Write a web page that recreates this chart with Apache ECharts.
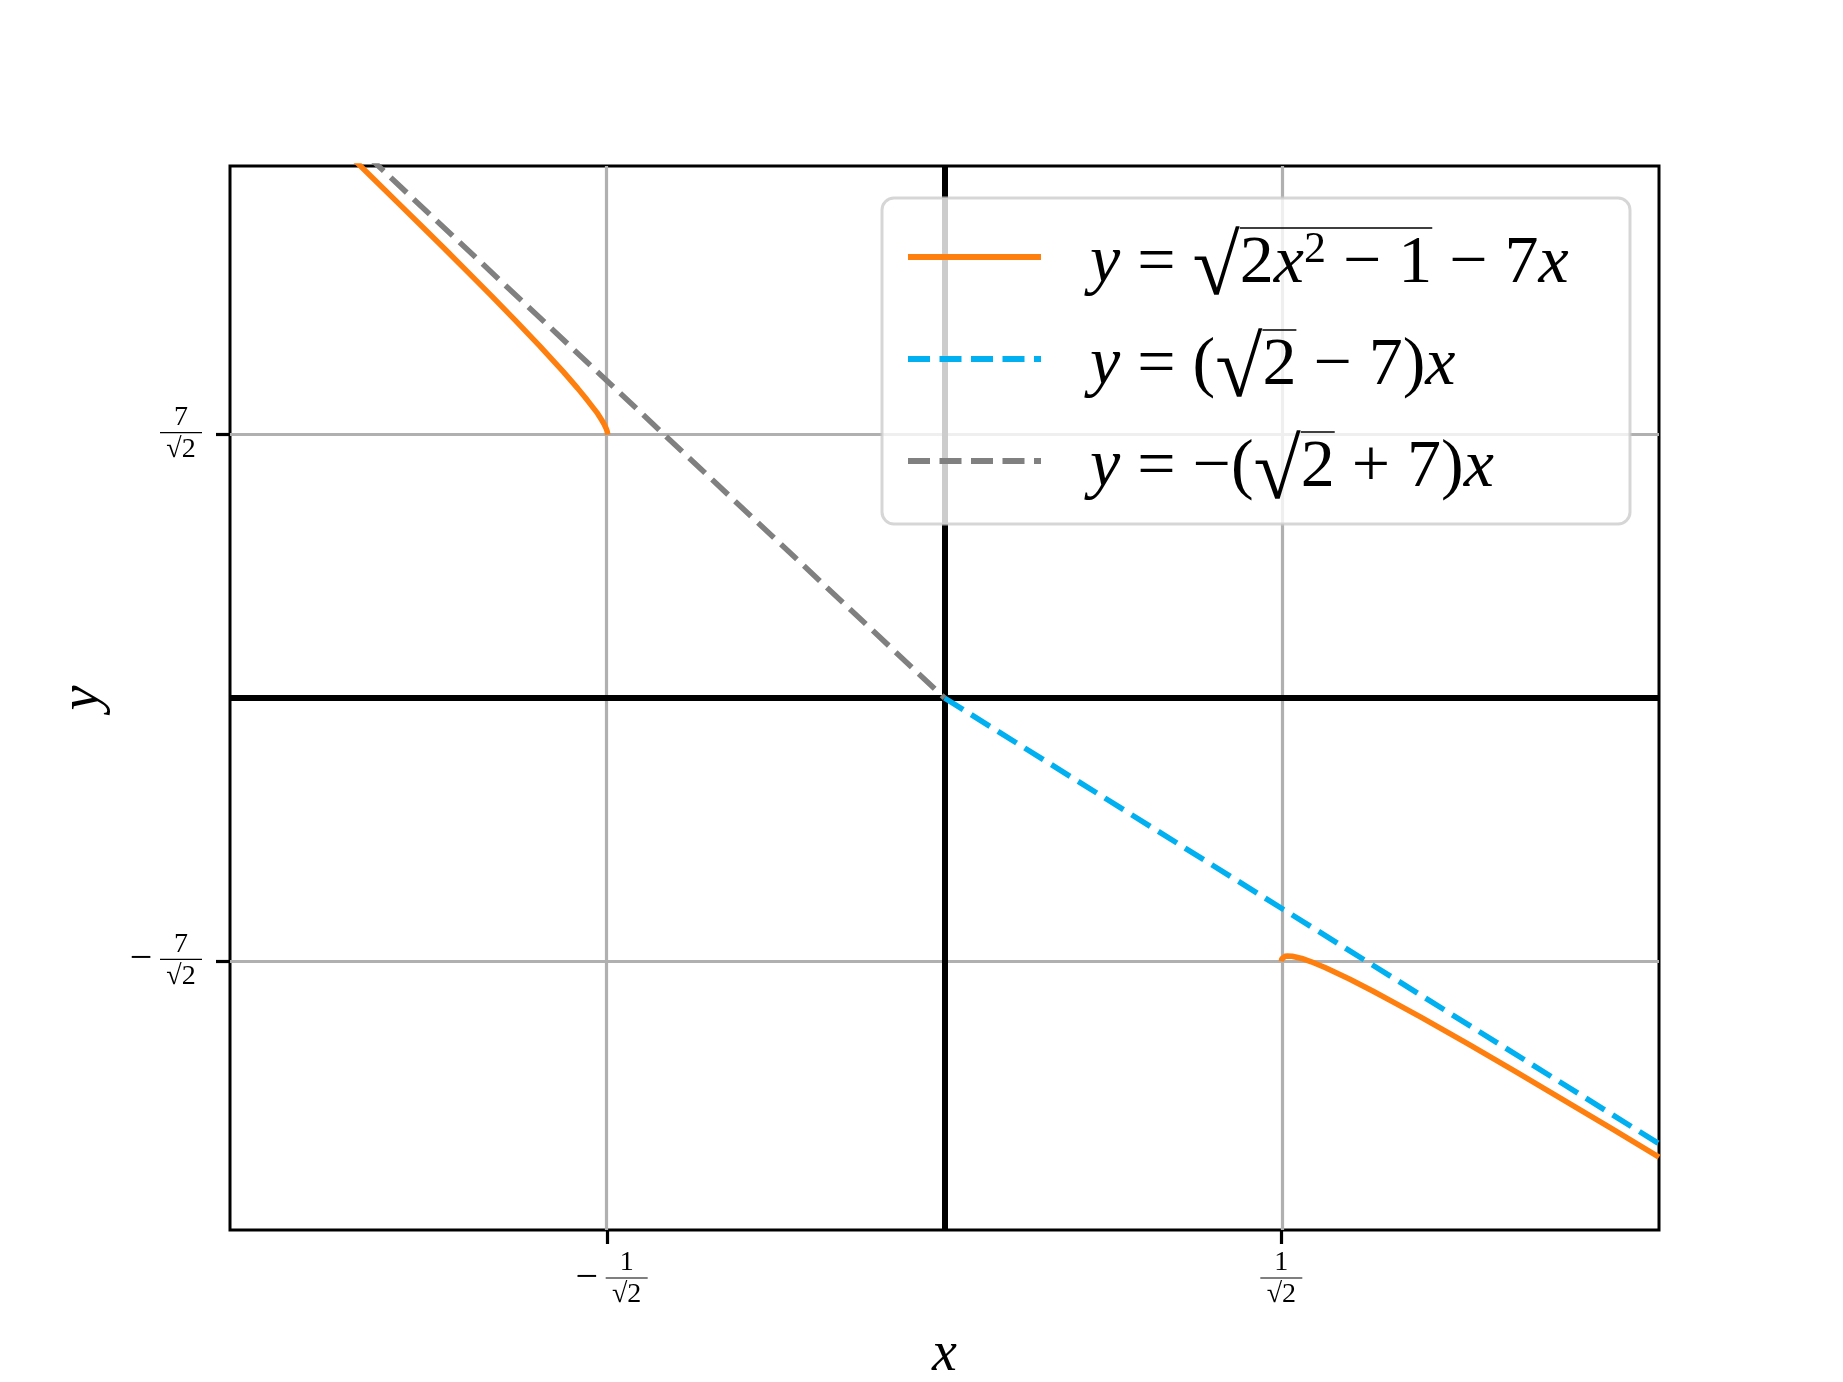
<!DOCTYPE html>
<html>
<head>
<meta charset="utf-8">
<script src="https://cdn.jsdelivr.net/npm/echarts@6/dist/echarts.min.js"></script>
<style>
  html, body { margin: 0; padding: 0; background: #fff; }
  #chart { width: 1843px; height: 1382px; }
</style>
</head>
<body>
<div id="chart"></div>
<script>
// y = sqrt(2x^2 - 1) - 7x, left branch (x <= -1/sqrt2)
const leftX = [-1.30, -1.25, -1.20, -1.15, -1.10, -1.05, -1.00, -0.95, -0.90, -0.85, -0.80, -0.77, -0.75, -0.73, -0.72, -0.715, -0.71, -0.708, -0.7071];
const leftY = [10.64, 10.21, 9.77, 9.33, 8.89, 8.45, 8.00, 7.55, 7.09, 6.62, 6.13, 5.82, 5.60, 5.37, 5.23, 5.155, 5.06, 5.006, 4.95];
// same curve, right branch (x >= 1/sqrt2)
const rightX = [0.7071, 0.708, 0.71, 0.715, 0.72, 0.73, 0.75, 0.77, 0.80, 0.85, 0.90, 0.95, 1.00, 1.05, 1.10, 1.20, 1.30, 1.40, 1.50];
const rightY = [-4.95, -4.906, -4.879, -4.855, -4.848, -4.854, -4.896, -4.959, -5.071, -5.283, -5.513, -5.753, -6.00, -6.252, -6.508, -7.029, -7.557, -8.091, -8.629];
// y = (sqrt2 - 7)x
const blueX = [0, 1.5];
const blueY = [0, -8.379];
// y = -(sqrt2 + 7)x
const grayX = [-1.5, 0];
const grayY = [12.621, 0];

const xRange = [-1.5, 1.5];
const yRange = [-10, 10];
const xTicks = [-0.70710678, 0.70710678];
const xTickText = ['−1/√2', '1/√2'];
const yTicks = [-4.94974747, 4.94974747];
const yTickText = ['−7/√2', '7/√2'];

const legendNames = ['curve', 'blue', 'gray'];

const SERIF = '"Liberation Serif", "DejaVu Serif", serif';
const LF = 68;
const SP = ' ';

function pairs(xs, ys) {
  return xs.map((x, i) => [x, ys[i]]);
}

// tick label as a stacked fraction
function fracLabel(value, ticks, texts) {
  let k = 0;
  for (let i = 0; i < ticks.length; i++) {
    if (Math.abs(ticks[i] - value) < 1e-6) k = i;
  }
  const t = texts[k];
  const neg = t.charAt(0) === '−';
  const p = (neg ? t.slice(1) : t).split('/');
  if (neg) {
    return '{ms|}{num|' + p[0] + '}\n{mi|−}{bar|}\n{ms|}{den|' + p[1] + '}';
  }
  return '{num|' + p[0] + '}\n{bar|}\n{den|' + p[1] + '}';
}

const fracRich = {
  num: { fontFamily: SERIF, fontSize: 28, color: '#000', width: 42, align: 'center', lineHeight: 22 },
  den: { fontFamily: SERIF, fontSize: 28, color: '#000', width: 42, align: 'center', lineHeight: 26 },
  bar: { width: 42, height: 0, borderWidth: 1.2, borderColor: '#000', lineHeight: 8, verticalAlign: 'middle' },
  mi: { fontFamily: SERIF, fontSize: 40, color: '#000', width: 38, align: 'center', lineHeight: 8 },
  ms: { width: 38, lineHeight: 8 }
};

// legend math text
const legendRich = {
  v: { fontFamily: SERIF, fontStyle: 'italic', fontSize: LF, color: '#000', lineHeight: 70, verticalAlign: 'bottom' },
  n: { fontFamily: SERIF, fontSize: LF, color: '#000', lineHeight: 70, verticalAlign: 'bottom' },
  sq: { fontFamily: SERIF, fontSize: 86, color: '#000', lineHeight: 60, verticalAlign: 'top' },
  sup: { fontFamily: SERIF, fontSize: 44, color: '#000', lineHeight: 45, verticalAlign: 'top' }
};

const legendParts = {
  curve: {
    pre: [['v', 'y'], ['n', SP + '=' + SP], ['sq', '√']],
    rad: [['n', '2'], ['v', 'x'], ['sup', '2'], ['n', SP + '−' + SP + '1']],
    post: [['n', SP + '−' + SP + '7'], ['v', 'x']]
  },
  blue: {
    pre: [['v', 'y'], ['n', SP + '=' + SP + '('], ['sq', '√']],
    rad: [['n', '2']],
    post: [['n', SP + '−' + SP + '7)'], ['v', 'x']]
  },
  gray: {
    pre: [['v', 'y'], ['n', SP + '=' + SP + '−('], ['sq', '√']],
    rad: [['n', '2']],
    post: [['n', SP + '+' + SP + '7)'], ['v', 'x']]
  }
};

const measureCtx = document.createElement('canvas').getContext('2d');
function segWidth(segs) {
  let w = 0;
  segs.forEach(s => {
    const st = legendRich[s[0]];
    measureCtx.font = (st.fontStyle || 'normal') + ' normal ' + st.fontSize + 'px ' + st.fontFamily;
    w += measureCtx.measureText(s[1]).width;
  });
  return w;
}

const GAP = 44;
const OVER_H = 12;
const TEXT_W = 512;   // width of the widest legend formula
const legendText = {};
legendNames.forEach((name, i) => {
  const p = legendParts[name];
  const sw = GAP + segWidth(p.pre);
  const bw = segWidth(p.rad);
  const tail = Math.max(0, TEXT_W - segWidth(p.pre.concat(p.rad, p.post)));
  legendRich['sp' + i] = { width: sw, height: OVER_H, lineHeight: OVER_H };
  legendRich['ov' + i] = { width: bw, height: 0, borderWidth: 1.6, borderColor: '#000', lineHeight: OVER_H, verticalAlign: 'bottom' };
  legendRich['t' + i] = { width: i === 0 ? tail : 0, lineHeight: 70 };
  const line2 = p.pre.concat(p.rad, p.post).map(s => '{' + s[0] + '|' + s[1] + '}').join('');
  legendText[name] = '{sp' + i + '|}{ov' + i + '|}\n{g|}' + line2 + '{t' + i + '|}';
});
legendRich.g = { width: GAP, lineHeight: 70 };

const chart = echarts.init(document.getElementById('chart'));

const lineBase = {
  type: 'line',
  symbol: 'none',
  smooth: false,
  clip: true,
  silent: true,
  z: 2
};

chart.setOption({
  animation: false,
  backgroundColor: '#fff',
  grid: {
    left: 230, top: 166, right: 184, bottom: 152,
    outerBoundsMode: 'none',
    show: true, borderColor: '#000', borderWidth: 3, backgroundColor: 'transparent'
  },
  legend: {
    data: legendNames,
    orient: 'vertical',
    left: 882,
    top: 198,
    padding: [18, 28, 6, 23],
    itemGap: 4,
    itemWidth: 133,
    itemHeight: 2,
    selectedMode: false,
    lineStyle: { width: 6 },
    itemStyle: { opacity: 0 },
    backgroundColor: 'rgba(255,255,255,0.8)',
    borderColor: 'rgba(204,204,204,0.8)',
    borderWidth: 3,
    borderRadius: 12,
    formatter: name => legendText[name],
    textStyle: { rich: legendRich }
  },
  xAxis: {
    type: 'value',
    min: xRange[0],
    max: xRange[1],
    name: 'x',
    nameLocation: 'middle',
    nameGap: 97,
    nameTextStyle: { fontFamily: SERIF, fontStyle: 'italic', fontSize: 56, color: '#000' },
    axisLine: { show: false, onZero: false },
    splitLine: { show: false },
    axisTick: { show: true, customValues: xTicks, length: 14, lineStyle: { color: '#000', width: 3.2 } },
    axisLabel: {
      show: true, customValues: xTicks, margin: 22,
      formatter: v => fracLabel(v, xTicks, xTickText),
      rich: fracRich
    }
  },
  yAxis: {
    type: 'value',
    min: yRange[0],
    max: yRange[1],
    name: 'y',
    nameLocation: 'middle',
    nameRotate: 90,
    nameGap: 118,
    nameTextStyle: { fontFamily: SERIF, fontStyle: 'italic', fontSize: 56, color: '#000' },
    axisLine: { show: false, onZero: false },
    splitLine: { show: false },
    axisTick: { show: true, customValues: yTicks, length: 14, lineStyle: { color: '#000', width: 3.2 } },
    axisLabel: {
      show: true, customValues: yTicks, margin: 28,
      formatter: v => fracLabel(v, yTicks, yTickText),
      rich: fracRich
    }
  },
  series: [
    {
      name: 'gridlines', type: 'line', data: [], silent: true,
      markLine: {
        z: 1, silent: true, symbol: ['none', 'none'], label: { show: false },
        lineStyle: { color: '#b0b0b0', width: 3.2, type: 'solid' },
        emphasis: { disabled: true },
        data: xTicks.map(v => ({ xAxis: v })).concat(yTicks.map(v => ({ yAxis: v })))
      }
    },
    {
      name: 'zerolines', type: 'line', data: [], silent: true,
      markLine: {
        z: 1.5, silent: true, symbol: ['none', 'none'], label: { show: false },
        lineStyle: { color: '#000', width: 6, type: 'solid' },
        emphasis: { disabled: true },
        data: [{ xAxis: 0 }, { yAxis: 0 }]
      }
    },
    Object.assign({}, lineBase, {
      name: 'curve', data: pairs(leftX, leftY),
      lineStyle: { color: '#ff7f0e', width: 5.5 }, itemStyle: { color: '#ff7f0e' }
    }),
    Object.assign({}, lineBase, {
      name: 'curve', data: pairs(rightX, rightY),
      lineStyle: { color: '#ff7f0e', width: 5.5 }, itemStyle: { color: '#ff7f0e' }
    }),
    Object.assign({}, lineBase, {
      name: 'blue', data: pairs(blueX, blueY),
      lineStyle: { color: '#00b0f0', width: 5.5, type: [22, 9.5] }, itemStyle: { color: '#00b0f0' }
    }),
    Object.assign({}, lineBase, {
      name: 'gray', data: pairs(grayX, grayY),
      lineStyle: { color: '#808080', width: 5.5, type: [22, 9.5] }, itemStyle: { color: '#808080' }
    })
  ]
});
</script>
</body>
</html>
